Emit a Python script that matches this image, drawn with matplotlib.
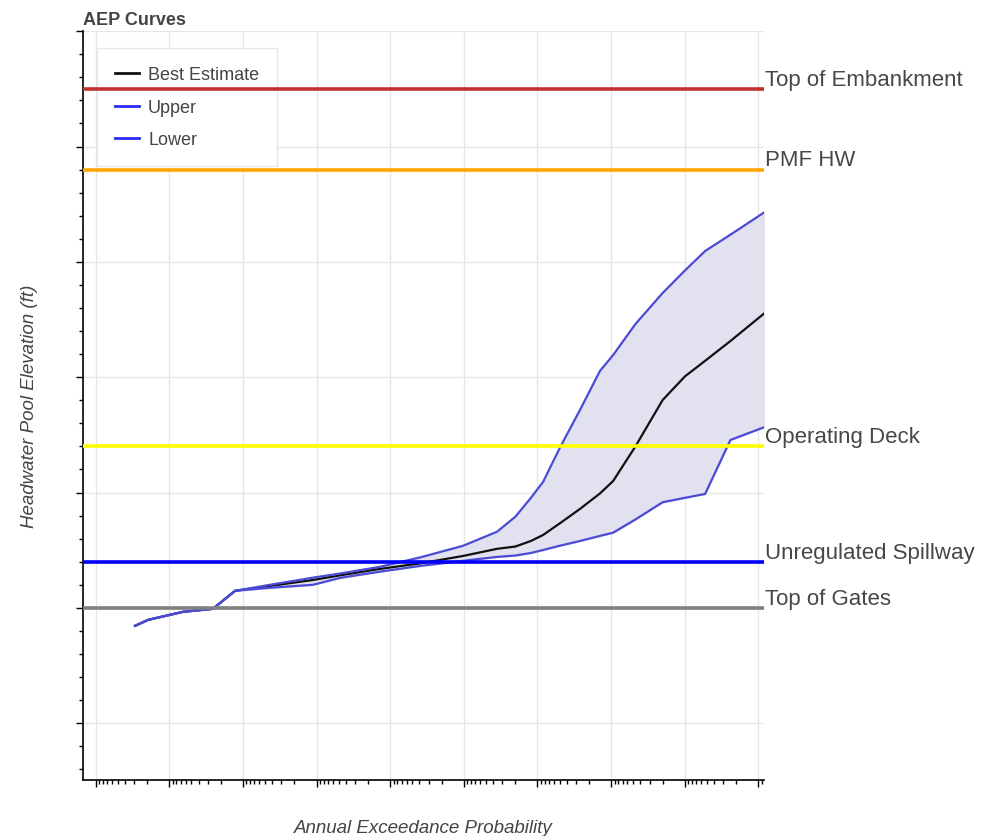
import matplotlib
matplotlib.use("Agg")
import matplotlib.pyplot as plt
from matplotlib.ticker import LogLocator, MultipleLocator, NullFormatter
from matplotlib.lines import Line2D

plt.rcParams['font.family'] = ['Liberation Sans', 'DejaVu Sans']

# annual exceedance probability for each point on the curves
aep = [2.92e-2, 1.94e-2, 6.5e-3, 2.55e-3, 1.28e-3, 4.3e-4, 1.12e-4, 4.8e-5,
       1.38e-5, 3.9e-6, 1.03e-6, 3.55e-7, 2.0e-7, 1.23e-7, 8.4e-8, 4.9e-8,
       2.65e-8, 1.42e-8, 9.4e-9, 4.7e-9, 2.0e-9, 1.0e-9, 5.3e-10, 2.4e-10, 8.4e-11]

# headwater pool elevations (ft)
best = [1029.22, 1029.48, 1029.83, 1029.96, 1030.74, 1030.95, 1031.21, 1031.41,
        1031.69, 1031.93, 1032.25, 1032.56, 1032.66, 1032.90, 1033.16, 1033.68,
        1034.29, 1034.96, 1035.50, 1036.99, 1039.01, 1040.03, 1040.71, 1041.57, 1042.76]
upper = [1029.22, 1029.48, 1029.83, 1029.96, 1030.74, 1031.00, 1031.31, 1031.49,
         1031.78, 1032.19, 1032.69, 1033.30, 1033.95, 1034.77, 1035.46, 1036.98,
         1038.58, 1040.27, 1040.96, 1042.30, 1043.65, 1044.62, 1045.47, 1046.18, 1047.14]
lower = [1029.22, 1029.48, 1029.83, 1029.96, 1030.74, 1030.87, 1031.00, 1031.30,
         1031.57, 1031.82, 1032.04, 1032.21, 1032.27, 1032.38, 1032.51, 1032.70,
         1032.90, 1033.12, 1033.26, 1033.83, 1034.58, 1034.77, 1034.94, 1037.28, 1037.83]

# reference elevations
ref_names = ['Top of Embankment', 'PMF HW', 'Operating Deck', 'Unregulated Spillway', 'Top of Gates']
ref_elev = [1052.5, 1049.0, 1037.0, 1032.0, 1030.0]
ref_colors = ['#c03030', '#ffa500', '#ffff00', '#0000ff', '#808080']

fig = plt.figure(figsize=(9.88, 8.37), dpi=100)
ax = fig.add_axes([0.0837, 0.0675, 0.6896, 0.8940])

ax.fill_between(aep, lower, upper, color='#e1e1ef', zorder=2)
ax.plot(aep, best, color='#111111', lw=1.6, zorder=3)
ax.plot(aep, upper, color='#4b4bd6', lw=1.6, zorder=3)
ax.plot(aep, lower, color='#4b4bd6', lw=1.6, zorder=3)

for name, y, col in zip(ref_names, ref_elev, ref_colors):
    ax.axhline(y, color=col, lw=2.6, zorder=5)
    ax.annotate(name, xy=(1, y), xycoords=ax.get_yaxis_transform(),
                xytext=(1, 3), textcoords='offset points',
                ha='left', va='baseline', fontsize=16, color='#474747',
                annotation_clip=False)

ax.set_xscale('log')
ax.set_xlim(0.1496, 8.4e-11)
ax.set_ylim(1022.56, 1055.0)

ax.xaxis.set_major_locator(LogLocator(base=10, numticks=30))
ax.xaxis.set_minor_locator(LogLocator(base=10, subs=range(2, 10), numticks=30))
ax.xaxis.set_major_formatter(NullFormatter())
ax.xaxis.set_minor_formatter(NullFormatter())
ax.yaxis.set_major_locator(MultipleLocator(5))
ax.yaxis.set_minor_locator(MultipleLocator(1))
ax.yaxis.set_major_formatter(NullFormatter())

ax.tick_params(which='major', direction='out', length=5, width=1, color='black')
ax.tick_params(which='minor', direction='out', length=3, width=1, color='black')

ax.grid(True, which='major', color='#e6e6e6', lw=1, zorder=0)
ax.set_axisbelow(True)
for side in ['top', 'right']:
    ax.spines[side].set_visible(False)
for side in ['left', 'bottom']:
    ax.spines[side].set_linewidth(1.2)

ax.set_title('AEP Curves', loc='left', fontsize=13, fontweight='bold', color='#444444', pad=5.5)
ax.set_ylabel('Headwater Pool Elevation (ft)', fontsize=13.5, fontstyle='italic', color='#444444', va='center')
ax.yaxis.set_label_coords(-0.078, 0.5)
ax.set_xlabel('Annual Exceedance Probability', fontsize=13.5, fontstyle='italic', color='#444444', va='center')
ax.xaxis.set_label_coords(0.5, -0.064)

handles = [Line2D([], [], color='#111111', lw=2),
           Line2D([], [], color='#2a2af0', lw=2),
           Line2D([], [], color='#2a2af0', lw=2)]
leg = ax.legend(handles, ['Best Estimate', 'Upper', 'Lower'],
                loc='upper left', bbox_to_anchor=(0.0205, 0.977), borderaxespad=0,
                fontsize=13, frameon=True, fancybox=False, framealpha=1,
                edgecolor='#e8e8e8', handlelength=1.35, handletextpad=0.5,
                labelspacing=0.85, borderpad=1.0)
leg.get_frame().set_linewidth(1)
leg.set_zorder(4)
for t in leg.get_texts():
    t.set_color('#444444')

fig.savefig('out.png', dpi=100)
